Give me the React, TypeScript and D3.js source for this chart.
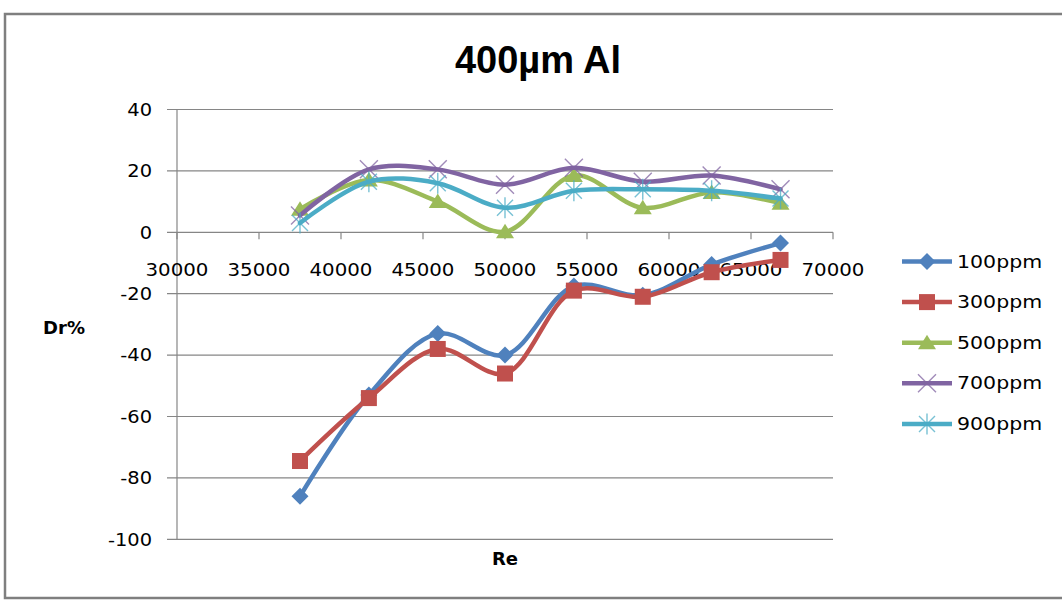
import React from "react";
import * as d3 from "d3";

// Reynolds numbers at which drag reduction was measured
const reynolds = [37500, 41700, 45900, 50000, 54200, 58400, 62600, 66800];

// Drag reduction Dr% for each polymer concentration
const dr100 = [-86, -53, -33, -40, -17.5, -20.5, -10.5, -3.5];
const dr300 = [-74.5, -54, -38, -46, -19, -21, -13, -9];
const dr500 = [7.5, 17, 10, 0.2, 18.5, 8, 13, 9.5];
const dr700 = [5.5, 20.5, 20.5, 15.5, 21, 16.5, 18.5, 14];
const dr900 = [3, 16.5, 16, 8, 13.5, 14, 13.5, 11];

const seriesNames = ["100ppm", "300ppm", "500ppm", "700ppm", "900ppm"];
const seriesValues = [dr100, dr300, dr500, dr700, dr900];

const xTicks = [30000, 35000, 40000, 45000, 50000, 55000, 60000, 65000, 70000];
const yTicks = [40, 20, 0, -20, -40, -60, -80, -100];

const W = 1062;
const H = 603;
const plot = { left: 177, right: 833, top: 109.5, bottom: 539.3 };

const colors = ["#4F81BD", "#C0504D", "#9BBB59", "#8064A2", "#4BACC6"];
const markerKinds = ["diamond", "square", "triangle", "x", "star"];

const x = d3.scaleLinear().domain([30000, 70000]).range([plot.left, plot.right]);
const y = d3.scaleLinear().domain([-100, 40]).range([plot.bottom, plot.top]);

const line = d3
  .line<[number, number]>()
  .x((d) => x(d[0]))
  .y((d) => y(d[1]))
  .curve(d3.curveCatmullRom.alpha(0.5));

function Marker({ kind, color, cx, cy }: { kind: string; color: string; cx: number; cy: number }) {
  const t = `translate(${cx},${cy})`;
  switch (kind) {
    case "diamond":
      return <path transform={t} d="M0,-8.5L8.5,0L0,8.5L-8.5,0Z" fill={color} />;
    case "square":
      return <rect transform={t} x={-8} y={-8} width={16} height={16} fill={color} />;
    case "triangle":
      return <path transform={t} d="M0,-8L9,6.5L-9,6.5Z" fill={color} />;
    case "x":
      return (
        <path
          transform={t}
          d="M-9,-9L9,9M-9,9L9,-9"
          stroke={color}
          strokeOpacity={0.75}
          strokeWidth={1.4}
          fill="none"
        />
      );
    default:
      return (
        <path
          transform={t}
          d="M-8,-8L8,8M-8,8L8,-8M0,-10.5L0,10.5"
          stroke={color}
          strokeOpacity={0.75}
          strokeWidth={1.4}
          fill="none"
        />
      );
  }
}

function SText({
  x: tx,
  y: ty,
  sx = 1.1,
  anchor = "start",
  size = 18,
  weight = "normal",
  family = "'DejaVu Sans', Verdana, sans-serif",
  children,
}: {
  x: number;
  y: number;
  sx?: number;
  anchor?: string;
  size?: number;
  weight?: string;
  family?: string;
  children: React.ReactNode;
}) {
  return (
    <text
      transform={`translate(${tx},${ty}) scale(${sx},1)`}
      textAnchor={anchor as any}
      dominantBaseline="central"
      fontSize={size}
      fontWeight={weight}
      fontFamily={family}
      fill="#000"
    >
      {children}
    </text>
  );
}

export default function App() {
  const gridColor = "#868686";
  return (
    <svg
      width={W}
      height={H}
      style={{ position: "absolute", left: 0, top: 0, background: "#fff" }}
    >
      {/* chart frame */}
      <rect x={5} y={14} width={W + 10} height={584} fill="#fff" stroke="#7f7f7f" strokeWidth={2.5} />

      {/* title */}
      <text
        x={538}
        y={73}
        textAnchor="middle"
        fontSize={38}
        fontWeight="bold"
        fontFamily="'Liberation Sans', Arial, sans-serif"
      >
        400µm Al
      </text>

      {/* horizontal gridlines with outside tick stubs */}
      {yTicks.map((t) => (
        <line
          key={t}
          x1={plot.left - 10}
          x2={plot.right}
          y1={y(t)}
          y2={y(t)}
          stroke={gridColor}
          strokeWidth={1.2}
        />
      ))}
      {/* vertical axis */}
      <line x1={plot.left} x2={plot.left} y1={plot.top} y2={plot.bottom} stroke={gridColor} strokeWidth={1.2} />
      {/* horizontal axis ticks at Dr% = 0 */}
      {xTicks.map((t) => (
        <line key={t} x1={x(t)} x2={x(t)} y1={y(0)} y2={y(0) + 7} stroke={gridColor} strokeWidth={1.2} />
      ))}

      {/* y tick labels */}
      {yTicks.map((t) => (
        <SText key={t} x={152} y={y(t)} anchor="end" sx={1.08}>
          {String(t)}
        </SText>
      ))}
      {/* x tick labels */}
      {xTicks.map((t) => (
        <SText key={t} x={x(t)} y={y(0) + 37} anchor="middle" sx={1.1}>
          {String(t)}
        </SText>
      ))}

      {/* axis titles */}
      <SText x={64} y={327} anchor="middle" weight="bold" sx={1}>
        Dr%
      </SText>
      <SText x={505} y={558} anchor="middle" weight="bold" sx={1}>
        Re
      </SText>

      {/* series */}
      {seriesValues.map((vals, i) => {
        const pts = reynolds.map((r, j) => [r, vals[j]] as [number, number]);
        return (
          <g key={seriesNames[i]}>
            <path d={line(pts) || ""} fill="none" stroke={colors[i]} strokeWidth={4.5} strokeLinecap="round" />
            {pts.map((p, j) => (
              <Marker key={j} kind={markerKinds[i]} color={colors[i]} cx={x(p[0])} cy={y(p[1])} />
            ))}
          </g>
        );
      })}

      {/* legend */}
      {seriesNames.map((name, i) => {
        const ly = 261.5 + i * 40.6;
        return (
          <g key={name}>
            <line x1={902} x2={952} y1={ly} y2={ly} stroke={colors[i]} strokeWidth={4.5} />
            <Marker kind={markerKinds[i]} color={colors[i]} cx={927} cy={ly} />
            <SText x={957} y={ly} sx={1.14}>
              {name}
            </SText>
          </g>
        );
      })}
    </svg>
  );
}
